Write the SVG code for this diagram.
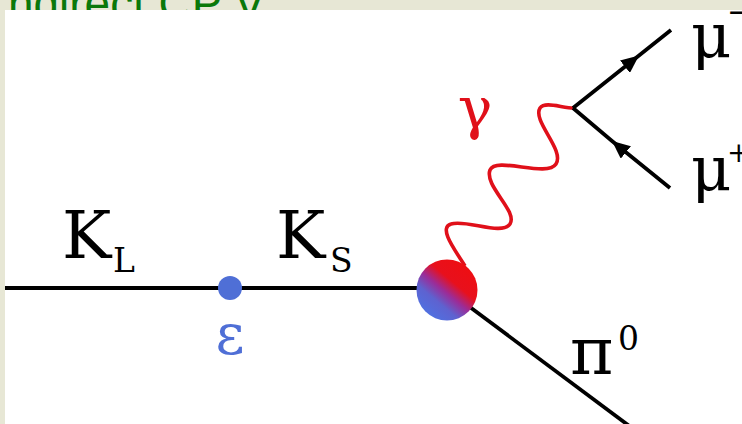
<svg xmlns="http://www.w3.org/2000/svg" width="742" height="424" viewBox="0 0 742 424">
<style>
.ln{stroke:#000;stroke-width:3.8;fill:none}
.ser{font-family:'DejaVu Serif','Liberation Serif',serif}
</style>
<defs>
<linearGradient id="ballg" gradientUnits="userSpaceOnUse" x1="468" y1="266" x2="428" y2="314">
<stop offset="0" stop-color="#ee0e12"/>
<stop offset="0.35" stop-color="#e8101c"/>
<stop offset="0.55" stop-color="#9b2c98"/>
<stop offset="0.75" stop-color="#5e62d0"/>
<stop offset="1" stop-color="#5070e0"/>
</linearGradient>
<marker id="arr" markerUnits="userSpaceOnUse" markerWidth="20" markerHeight="16" viewBox="0 0 20 16" refX="18" refY="8" orient="auto">
<path d="M0 0 L18 8 L0 16 Z" fill="#000"/>
</marker>
</defs>
<rect x="0" y="0" width="742" height="424" fill="#e7e7d5"/>
<text x="8" y="20" font-family="Liberation Sans, Arial, sans-serif" font-size="48" fill="#0a780a" textLength="257" lengthAdjust="spacingAndGlyphs">ndirect CP V</text>
<rect x="5" y="10" width="737" height="414" fill="#fff"/>
<g id="connectors">
<line class="ln" x1="5" y1="288" x2="430" y2="288"/>
<line class="ln" x1="447" y1="290" x2="632" y2="428"/>
<path d="M465 266 C455 250,438 228,451 224 C466 219,502 236,510 224 C518 211,484 186,490 170 C496 156,547 178,556 164 C565 150,532 121,540 108 C545 101,562 108,574 108" fill="none" stroke="#e0101a" stroke-width="3.6"/>
<path class="ln" d="M573 108 L639 55.5 L671 30" marker-mid="url(#arr)"/>
<path class="ln" d="M670 188 L612 141 L573 108" marker-mid="url(#arr)"/>
</g>
<g id="KL" class="ser"><text x="62" y="258" font-size="66">K</text><text x="113" y="272" font-size="33">L</text></g>
<g id="KS" class="ser"><text x="276" y="258" font-size="66">K</text><text x="330" y="272" font-size="33">S</text></g>
<g id="epsilon" class="ser"><circle cx="230" cy="288" r="12" fill="#4f6fd6"/><text x="230" y="354" font-size="56" fill="#4f6fd6" text-anchor="middle">ε</text></g>
<g id="vertex"><circle cx="447" cy="290" r="30.5" fill="url(#ballg)"/></g>
<g id="gamma" class="ser"><text x="475" y="128" font-size="58" fill="#e0101a" text-anchor="middle">γ</text></g>
<g id="muminus" class="ser"><text x="691" y="57" font-size="62">μ</text><text x="727" y="22" font-size="30">−</text></g>
<g id="muplus" class="ser"><text x="691" y="190" font-size="62">μ</text><text x="727" y="162" font-size="28">+</text></g>
<g id="pi0" class="ser"><text x="570" y="374" font-size="66">π</text><text x="618" y="350" font-size="33">0</text></g>
</svg>
